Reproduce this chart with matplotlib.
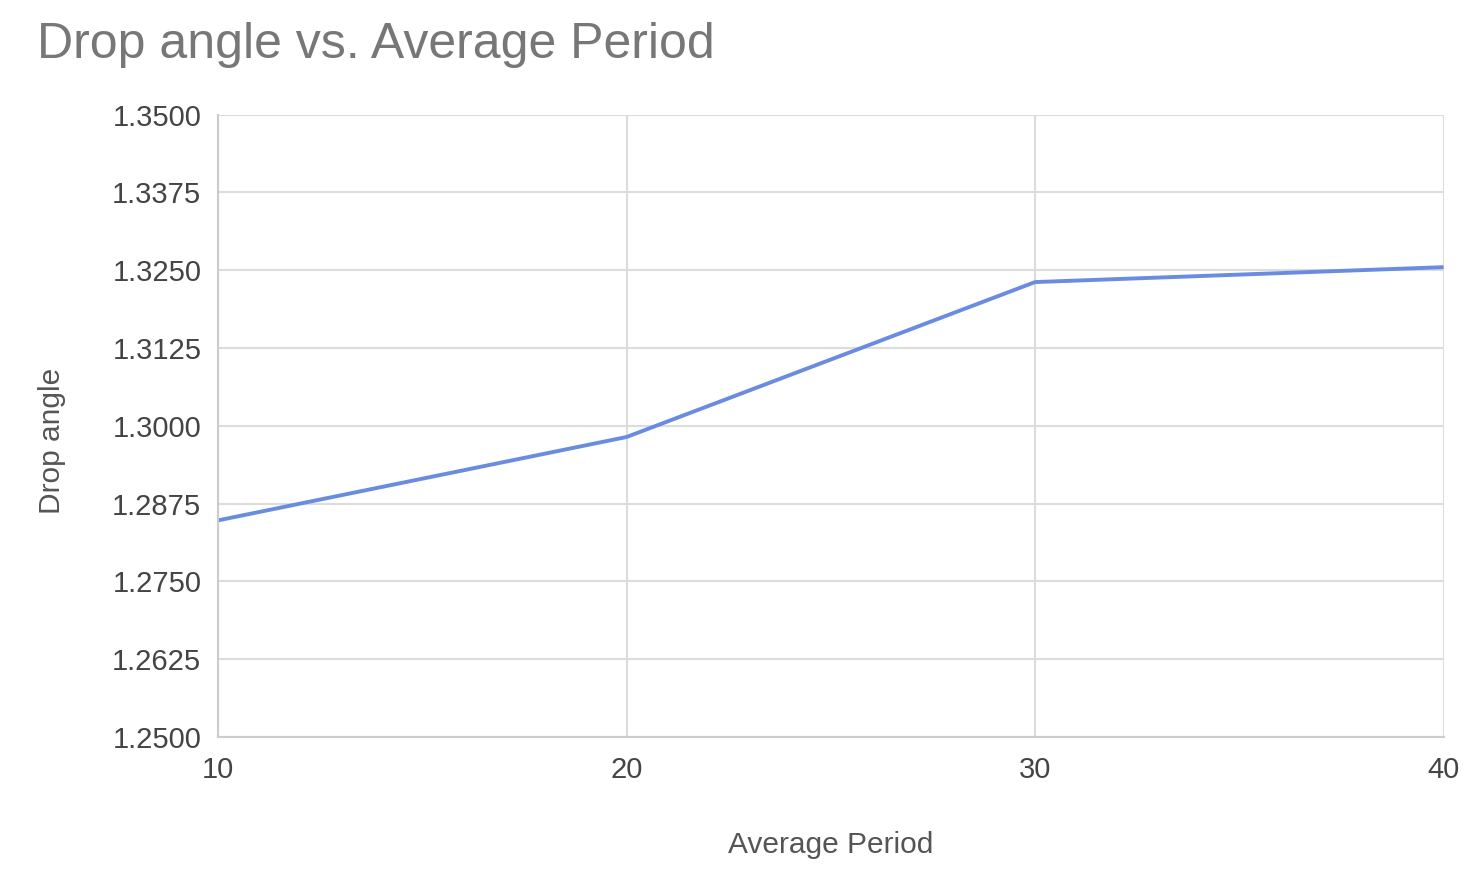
import numpy as np
import matplotlib.pyplot as plt

# data
avg_period = [10, 20, 30, 40]
drop_angle = [1.2848, 1.2982, 1.3231, 1.3255]
y_ticks = [1.25, 1.2625, 1.275, 1.2875, 1.30, 1.3125, 1.325, 1.3375, 1.35]
x_ticks = [10, 20, 30, 40]

plt.rcParams['font.family'] = ['Liberation Sans', 'DejaVu Sans']

fig = plt.figure(figsize=(14.73, 8.69), dpi=100)
ax = fig.add_axes([0.148, 0.152, 0.832, 0.716])

ax.plot(avg_period, drop_angle, color='#6a8ce0', linewidth=2.8, solid_capstyle='butt')

ax.set_xlim(10, 40)
ax.set_ylim(1.25, 1.35)
ax.set_xticks(x_ticks)
ax.set_yticks(y_ticks)
ax.set_yticklabels(['{:.4f}'.format(v) for v in y_ticks])
ax.grid(True, color='#dcdcdc', linewidth=1.5)
ax.set_axisbelow(True)
ax.tick_params(length=0, labelsize=21, labelcolor='#444444')
ax.tick_params(axis='x', pad=14)
ax.tick_params(axis='y', pad=12)
for s in ax.spines.values():
    s.set_visible(False)
ax.spines['bottom'].set_visible(True)
ax.spines['bottom'].set_color('#cccccc')
ax.spines['bottom'].set_linewidth(1.5)
ax.spines['left'].set_visible(True)
ax.spines['left'].set_color('#cccccc')
ax.spines['left'].set_linewidth(1.5)

ax.set_xlabel('Average Period', fontsize=21.5, color='#555555')
ax.set_ylabel('Drop angle', fontsize=21.5, color='#555555')
ax.xaxis.set_label_coords(0.5, -0.151)
ax.yaxis.set_label_coords(-0.124, 0.475)

fig.text(0.025, 0.948, 'Drop angle vs. Average Period', fontsize=36,
         color='#777777', va='center', ha='left')

fig.savefig('out.png', dpi=100)
